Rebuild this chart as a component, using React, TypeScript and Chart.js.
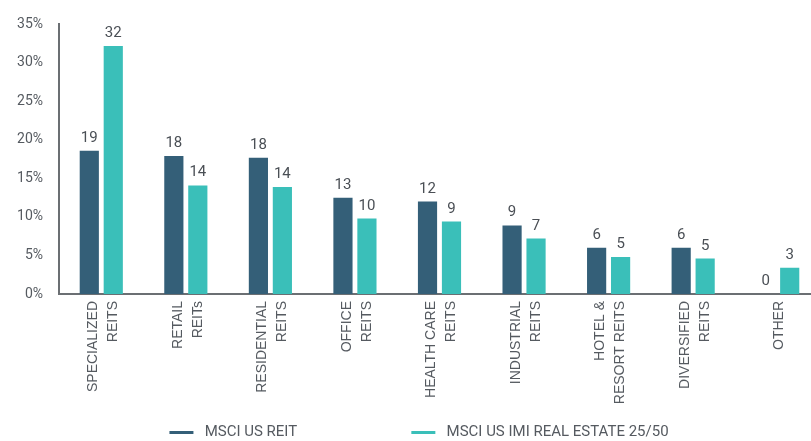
import React, { useEffect, useRef } from "react";
import { Chart, registerables } from "chart.js";

Chart.register(...registerables);

const categories: string[][] = [
  ["SPECIALIZED", "REITS"],
  ["RETAIL", "REITs"],
  ["RESIDENTIAL", "REITS"],
  ["OFFICE", "REITS"],
  ["HEALTH CARE", "REITS"],
  ["INDUSTRIAL", "REITS"],
  ["HOTEL &", "RESORT REITS"],
  ["DIVERSIFIED", "REITS"],
  ["OTHER"],
];

const seriesNames = ["MSCI US REIT", "MSCI US IMI REAL ESTATE 25/50"];

const reitValues = [18.6, 17.9, 17.7, 12.5, 12.0, 8.9, 6.0, 6.0, 0];
const imiValues = [32.2, 14.1, 13.9, 9.8, 9.4, 7.2, 4.8, 4.6, 3.4];

const reitLabels = ["19", "18", "18", "13", "12", "9", "6", "6", "0"];
const imiLabels = ["32", "14", "14", "10", "9", "7", "5", "5", "3"];

const yTicks = [0, 5, 10, 15, 20, 25, 30, 35];

const DARK = "#345f78";
const TEAL = "#3abfb9";
const TEXT = "#555a60";

const CANVAS_W = 848;
const CANVAS_H = 460;

const valueLabelPlugin = {
  id: "valueLabels",
  afterDatasetsDraw(chart: any) {
    const ctx = chart.ctx;
    const allLabels = [reitLabels, imiLabels];
    ctx.save();
    ctx.font = "15px Roboto";
    ctx.fillStyle = "#4a4f55";
    ctx.textAlign = "center";
    ctx.textBaseline = "alphabetic";
    chart.data.datasets.forEach((_ds: any, di: number) => {
      const meta = chart.getDatasetMeta(di);
      meta.data.forEach((el: any, i: number) => {
        ctx.fillText(allLabels[di][i], el.x, el.y - 9);
      });
    });
    ctx.restore();
  },
};

const legendShiftPlugin = {
  id: "legendShift",
  afterLayout(chart: any) {
    if (chart.legend) {
      chart.legend.left = 18;
    }
  },
};

export default function App() {
  const canvasRef = useRef<HTMLCanvasElement | null>(null);

  useEffect(() => {
    if (!canvasRef.current) return;
    const chart = new Chart(canvasRef.current, {
      type: "bar",
      data: {
        labels: categories,
        datasets: [
          {
            label: seriesNames[0],
            data: reitValues,
            backgroundColor: DARK,
            borderWidth: 0,
            categoryPercentage: 0.567,
            barPercentage: 0.8,
          },
          {
            label: seriesNames[1],
            data: imiValues,
            backgroundColor: TEAL,
            borderWidth: 0,
            categoryPercentage: 0.567,
            barPercentage: 0.8,
          },
        ],
      },
      options: {
        responsive: false,
        animation: false,
        devicePixelRatio: 1,
        layout: { padding: { left: 0, right: 28, top: 22, bottom: 10 } },
        plugins: {
          tooltip: { enabled: false },
          legend: {
            position: "bottom",
            labels: {
              boxWidth: 24,
              boxHeight: 3,
              padding: 10,
              color: TEXT,
              font: { family: "Roboto", size: 15 },
              generateLabels: (c: any) => {
                const items = (Chart.defaults.plugins.legend.labels as any).generateLabels(c);
                return items.map((it: any, i: number) => ({
                  ...it,
                  lineWidth: 0,
                  text: i === 0 ? " " + it.text + " ".repeat(28) : " " + it.text,
                }));
              },
            },
          },
        },
        scales: {
          x: {
            grid: { display: false, drawTicks: false },
            border: { display: true, color: "#6b6f73", width: 2 },
            ticks: {
              autoSkip: false,
              maxRotation: 90,
              minRotation: 90,
              padding: 7,
              labelOffset: -8,
              color: TEXT,
              callback: (_v: any, i: number) => {
                const lab = categories[i];
                return lab.length > 1 ? lab : ["", ...lab];
              },
              font: (ctx: any) => {
                const lab = categories[ctx.index];
                const multi = lab && lab.length > 1;
                return { family: "Liberation Sans", size: 14, lineHeight: multi ? 1.43 : 0.68 };
              },
            },
            afterFit: (scale: any) => {
              scale.height = 121;
            },
          },
          y: {
            min: 0,
            max: 35,
            afterBuildTicks: (scale: any) => {
              scale.ticks = yTicks.map((v) => ({ value: v }));
            },
            grid: { display: false, drawTicks: false },
            border: { display: true, color: "#6b6f73", width: 2 },
            ticks: {
              padding: 16,
              color: TEXT,
              font: { family: "Roboto", size: 14 },
              callback: (v: any) => v + "%",
            },
            afterFit: (scale: any) => {
              scale.width = 59;
            },
          },
        },
      },
      plugins: [valueLabelPlugin, legendShiftPlugin],
    });
    return () => chart.destroy();
  }, []);

  return (
    <div
      style={{
        position: "fixed",
        left: 0,
        top: 0,
        width: 811,
        height: 441,
        overflow: "hidden",
        background: "#fff",
      }}
    >
      <canvas
        ref={canvasRef}
        width={CANVAS_W}
        height={CANVAS_H}
        style={{ display: "block", width: CANVAS_W, height: CANVAS_H }}
      />
    </div>
  );
}
